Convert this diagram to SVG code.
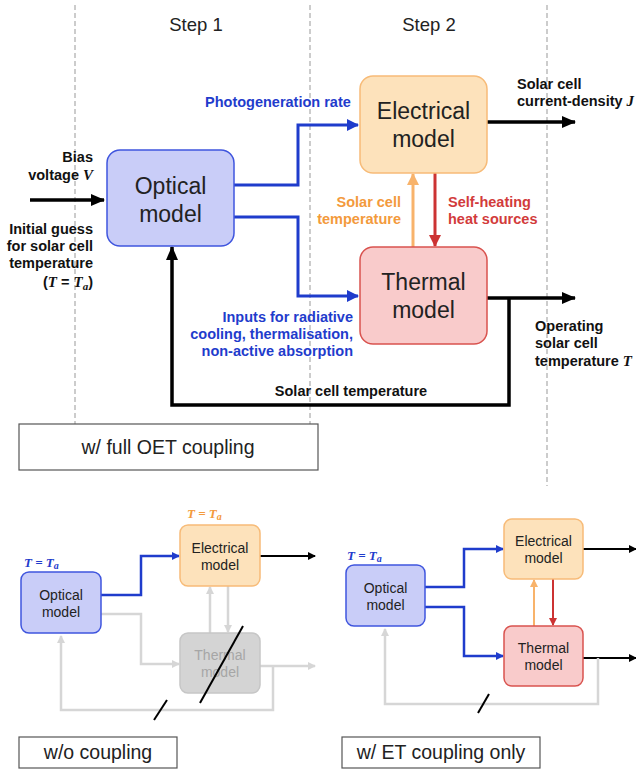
<svg xmlns="http://www.w3.org/2000/svg" width="636" height="769" viewBox="0 0 636 769">
<defs>
<style>
text{font-family:"Liberation Sans",Arial,sans-serif}
.step{font-size:18.5px;fill:#222}
.big{font-size:23px;fill:#222;text-anchor:middle}
.sm{font-size:14px;fill:#222;text-anchor:middle}
.lbl{font-size:14.5px;font-weight:bold;fill:#111}
.blue{fill:#1f3ccc}
.orng{fill:#f39a3c}
.red{fill:#d23b3b}
.m{font-family:"Liberation Serif","Times New Roman",serif;font-style:italic;font-weight:bold}
.opt{fill:#c9cdf8;stroke:#3f55de;stroke-width:1.5}
.ele{fill:#fde2bb;stroke:#f7bb78;stroke-width:1.5}
.the{fill:#f9cbcb;stroke:#d9534f;stroke-width:1.5}
.gry{fill:#d4d4d4;stroke:#c6c6c6;stroke-width:1.5}
.dash{stroke:#999;stroke-width:1;stroke-dasharray:5,3;fill:none}
.cap{fill:#fff;stroke:#555;stroke-width:1.2}
.capt{font-size:19.5px;fill:#222;text-anchor:middle}
</style>
<marker id="abl" markerWidth="12" markerHeight="12" refX="11" refY="6" orient="auto" markerUnits="userSpaceOnUse"><path d="M0,0 L12,6 L0,12 z" fill="#1f3ccc"/></marker>
<marker id="ak" markerWidth="14" markerHeight="12" refX="13" refY="6" orient="auto" markerUnits="userSpaceOnUse"><path d="M0,0 L14,6 L0,12 z" fill="#000"/></marker>
<marker id="ao" markerWidth="12" markerHeight="12" refX="11" refY="6" orient="auto" markerUnits="userSpaceOnUse"><path d="M0,0 L12,6 L0,12 z" fill="#f8b36b"/></marker>
<marker id="ar" markerWidth="12" markerHeight="12" refX="11" refY="6" orient="auto" markerUnits="userSpaceOnUse"><path d="M0,0 L12,6 L0,12 z" fill="#cc3333"/></marker>
<marker id="sbl" markerWidth="8" markerHeight="8" refX="7" refY="4" orient="auto" markerUnits="userSpaceOnUse"><path d="M0,0 L8,4 L0,8 z" fill="#1f3ccc"/></marker>
<marker id="sk" markerWidth="8" markerHeight="8" refX="7" refY="4" orient="auto" markerUnits="userSpaceOnUse"><path d="M0,0 L8,4 L0,8 z" fill="#000"/></marker>
<marker id="sg" markerWidth="8" markerHeight="8" refX="7" refY="4" orient="auto" markerUnits="userSpaceOnUse"><path d="M0,0 L8,4 L0,8 z" fill="#d6d6d6"/></marker>
<marker id="so" markerWidth="8" markerHeight="8" refX="7" refY="4" orient="auto" markerUnits="userSpaceOnUse"><path d="M0,0 L8,4 L0,8 z" fill="#f8b36b"/></marker>
<marker id="sr" markerWidth="8" markerHeight="8" refX="7" refY="4" orient="auto" markerUnits="userSpaceOnUse"><path d="M0,0 L8,4 L0,8 z" fill="#cc3333"/></marker>
</defs>
<rect width="636" height="769" fill="#fff"/>

<g id="guides">
<line class="dash" x1="75" y1="5" x2="75" y2="424"/>
<line class="dash" x1="310" y1="5" x2="310" y2="424"/>
<line class="dash" x1="547" y1="5" x2="547" y2="486"/>
<text class="step" x="196" y="31" text-anchor="middle">Step 1</text>
<text class="step" x="429" y="31" text-anchor="middle">Step 2</text>
</g>

<g id="connectors">
<path d="M30,200 H104" stroke="#000" stroke-width="3.5" fill="none" marker-end="url(#ak)"/>
<path d="M234,185 H298 V125 H358" stroke="#1f3ccc" stroke-width="3" fill="none" marker-end="url(#abl)"/>
<path d="M234,217 H298 V296 H358" stroke="#1f3ccc" stroke-width="3" fill="none" marker-end="url(#abl)"/>
<path d="M413,247 V174" stroke="#f8b36b" stroke-width="3" fill="none" marker-end="url(#ao)"/>
<path d="M435,173 V246" stroke="#cc3333" stroke-width="3" fill="none" marker-end="url(#ar)"/>
<path d="M487,122 H575" stroke="#000" stroke-width="3.5" fill="none" marker-end="url(#ak)"/>
<path d="M487,298 H575" stroke="#000" stroke-width="3.5" fill="none" marker-end="url(#ak)"/>
<path d="M509,298 V405 H172 V247" stroke="#000" stroke-width="3.5" fill="none" marker-end="url(#ak)"/>
<path d="M101,595 H141 V556 H179" stroke="#1f3ccc" stroke-width="2.5" fill="none" marker-end="url(#sbl)"/>
<path d="M101,614 H141 V664 H179" stroke="#d6d6d6" stroke-width="2.5" fill="none" marker-end="url(#sg)"/>
<path d="M210,633 V587" stroke="#d6d6d6" stroke-width="2.5" fill="none" marker-end="url(#sg)"/>
<path d="M228,586 V632" stroke="#d6d6d6" stroke-width="2.5" fill="none" marker-end="url(#sg)"/>
<path d="M260,556 H315" stroke="#000" stroke-width="2" fill="none" marker-end="url(#sk)"/>
<path d="M260,666 H315" stroke="#d6d6d6" stroke-width="2.5" fill="none" marker-end="url(#sg)"/>
<path d="M273,666 V710 H61 V636" stroke="#d6d6d6" stroke-width="2.5" fill="none" marker-end="url(#sg)"/>
<path d="M425,587 H464 V549 H503" stroke="#1f3ccc" stroke-width="2.5" fill="none" marker-end="url(#sbl)"/>
<path d="M425,607 H464 V656 H503" stroke="#1f3ccc" stroke-width="2.5" fill="none" marker-end="url(#sbl)"/>
<path d="M534,626 V580" stroke="#f8b36b" stroke-width="2" fill="none" marker-end="url(#so)"/>
<path d="M553,579 V625" stroke="#cc3333" stroke-width="2" fill="none" marker-end="url(#sr)"/>
<path d="M583,549 H636" stroke="#000" stroke-width="2" fill="none" marker-end="url(#sk)"/>
<path d="M583,658 H636" stroke="#000" stroke-width="2" fill="none" marker-end="url(#sk)"/>
<path d="M598,658 V704 H385 V629" stroke="#d6d6d6" stroke-width="2.5" fill="none" marker-end="url(#sg)"/>
</g>

<g id="labels">
<text class="lbl" x="93" y="162" text-anchor="end">Bias</text>
<text class="lbl" x="93" y="180" text-anchor="end">voltage <tspan class="m" font-size="15">V</tspan></text>
<text class="lbl" x="93" y="234" text-anchor="end">Initial guess</text>
<text class="lbl" x="93" y="251" text-anchor="end">for solar cell</text>
<text class="lbl" x="93" y="268" text-anchor="end">temperature</text>
<text class="lbl" x="93" y="287" text-anchor="end">(<tspan class="m" font-size="15">T</tspan> = <tspan class="m" font-size="15">T</tspan><tspan class="m" font-size="11" dy="3">a</tspan><tspan dy="-3">)</tspan></text>
<text class="lbl blue" x="205" y="107">Photogeneration rate</text>
<text class="lbl blue" x="353" y="322" text-anchor="end">Inputs for radiative</text>
<text class="lbl blue" x="353" y="339" text-anchor="end">cooling, thermalisation,</text>
<text class="lbl blue" x="353" y="356" text-anchor="end">non-active absorption</text>
<text class="lbl orng" x="401" y="207" text-anchor="end">Solar cell</text>
<text class="lbl orng" x="401" y="224" text-anchor="end">temperature</text>
<text class="lbl red" x="448" y="207">Self-heating</text>
<text class="lbl red" x="448" y="224">heat sources</text>
<text class="lbl" x="517" y="89">Solar cell</text>
<text class="lbl" x="517" y="106">current-density <tspan class="m" font-size="15">J</tspan></text>
<text class="lbl" x="535" y="331">Operating</text>
<text class="lbl" x="535" y="348">solar cell</text>
<text class="lbl" x="535" y="366">temperature <tspan class="m" font-size="15">T</tspan></text>
<text class="lbl" x="351" y="396" text-anchor="middle">Solar cell temperature</text>
<text class="m blue" x="24" y="567" font-size="13">T = T<tspan font-size="10" dy="2">a</tspan></text>
<text class="m orng" x="187" y="518" font-size="13">T = T<tspan font-size="10" dy="2">a</tspan></text>
<text class="m blue" x="347" y="560" font-size="13">T = T<tspan font-size="10" dy="2">a</tspan></text>
</g>

<g id="optical">
<rect class="opt" x="107" y="150" width="127" height="96" rx="13"/>
<text class="big" x="170.5" y="194">Optical</text>
<text class="big" x="170.5" y="222">model</text>
</g>
<g id="electrical">
<rect class="ele" x="360" y="76" width="127" height="97" rx="13"/>
<text class="big" x="423.5" y="119">Electrical</text>
<text class="big" x="423.5" y="147">model</text>
</g>
<g id="thermal">
<rect class="the" x="360" y="247" width="127" height="97" rx="13"/>
<text class="big" x="423.5" y="290">Thermal</text>
<text class="big" x="423.5" y="318">model</text>
</g>
<g id="caption-full">
<rect class="cap" x="19" y="424" width="299" height="46"/>
<text class="capt" x="168" y="454">w/ full OET coupling</text>
</g>

<g id="optical-nc">
<rect class="opt" x="21" y="572" width="80" height="61" rx="8"/>
<text class="sm" x="61" y="600">Optical</text>
<text class="sm" x="61" y="617">model</text>
</g>
<g id="electrical-nc">
<rect class="ele" x="180" y="525" width="80" height="61" rx="8"/>
<text class="sm" x="220" y="553">Electrical</text>
<text class="sm" x="220" y="570">model</text>
</g>
<g id="thermal-nc">
<rect class="gry" x="180" y="633" width="80" height="60" rx="8"/>
<text class="sm" x="220" y="660" style="fill:#a6a6a6">Thermal</text>
<text class="sm" x="220" y="677" style="fill:#a6a6a6">model</text>
</g>
<g id="slashes">
<line x1="200" y1="703" x2="243" y2="626" stroke="#000" stroke-width="2"/>
<line x1="154" y1="720" x2="167" y2="700" stroke="#000" stroke-width="2"/>
<line x1="478" y1="713" x2="489" y2="694" stroke="#000" stroke-width="2"/>
</g>
<g id="caption-nc">
<rect class="cap" x="19" y="737" width="158" height="31"/>
<text class="capt" x="98" y="759">w/o coupling</text>
</g>

<g id="optical-et">
<rect class="opt" x="346" y="565" width="79" height="61" rx="8"/>
<text class="sm" x="385.5" y="593">Optical</text>
<text class="sm" x="385.5" y="610">model</text>
</g>
<g id="electrical-et">
<rect class="ele" x="504" y="519" width="79" height="60" rx="8"/>
<text class="sm" x="543.5" y="546">Electrical</text>
<text class="sm" x="543.5" y="563">model</text>
</g>
<g id="thermal-et">
<rect class="the" x="504" y="626" width="79" height="60" rx="8"/>
<text class="sm" x="543.5" y="653">Thermal</text>
<text class="sm" x="543.5" y="670">model</text>
</g>
<g id="caption-et">
<rect class="cap" x="342" y="737" width="198" height="31"/>
<text class="capt" x="441" y="759">w/ ET coupling only</text>
</g>
</svg>
